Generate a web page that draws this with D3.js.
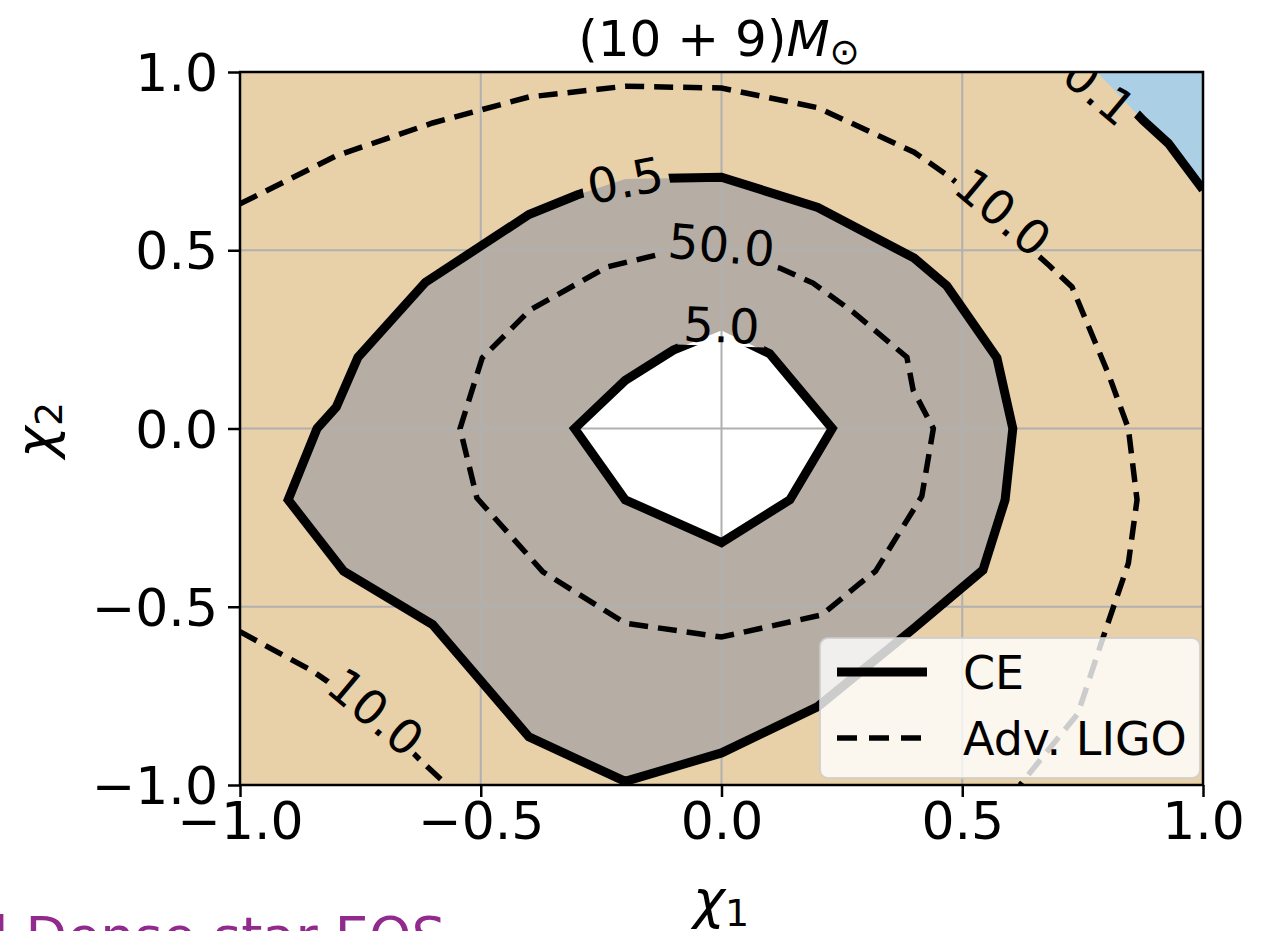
<!DOCTYPE html>
<html>
<head>
<meta charset="utf-8">
<script src="https://cdn.jsdelivr.net/npm/d3@7"></script>
<style>
  body { margin: 0; background: #fff; }
  svg { display: block; }
  text { font-family: "DejaVu Sans", sans-serif; }
</style>
</head>
<body>
<div id="chart"></div>
<script>
// ---- data (chi1, chi2) ----
const xTicks = [-1, -0.5, 0, 0.5, 1];
const yTicks = [-1, -0.5, 0, 0.5, 1];
const tickLabels = ["\u22121.0", "\u22120.5", "0.0", "0.5", "1.0"];

// CE contours (solid)
const ce01 = [[0.78, 1.0], [0.875, 0.865], [0.928, 0.80], [1.0, 0.67]];
const ce05 = [[-0.2, 0.70], [0, 0.705], [0.2, 0.62], [0.4, 0.478], [0.468, 0.40],
  [0.572, 0.198], [0.605, 0.0], [0.589, -0.2], [0.543, -0.397], [0.4, -0.56],
  [0.2, -0.78], [0, -0.91], [-0.2, -0.99], [-0.4, -0.865], [-0.6, -0.55],
  [-0.785, -0.40], [-0.9, -0.2], [-0.84, 0.0], [-0.80, 0.06], [-0.755, 0.20],
  [-0.615, 0.41], [-0.4, 0.60], [-0.3, 0.655]];
const ce50 = [[-0.305, 0], [-0.2, 0.135], [-0.1, 0.22], [0, 0.275], [0.1, 0.21],
  [0.23, 0], [0.142, -0.2], [0, -0.32], [-0.2, -0.2]];

// Adv. LIGO contours (dashed)
const ligo50 = [[0, 0.49], [0.121, 0.45], [0.19, 0.408], [0.273, 0.327], [0.385, 0.20],
  [0.398, 0.108], [0.44, 0.0], [0.416, -0.19], [0.32, -0.40], [0.288, -0.434],
  [0.208, -0.523], [0, -0.585], [-0.2, -0.546], [-0.371, -0.402], [-0.508, -0.195],
  [-0.543, 0.0], [-0.497, 0.198], [-0.398, 0.332], [-0.238, 0.453], [-0.134, 0.487]];
const ligo10a = [[-1, 0.63], [-0.8, 0.765], [-0.6, 0.857], [-0.4, 0.93], [-0.2, 0.96],
  [0, 0.955], [0.2, 0.90], [0.4, 0.775], [0.475, 0.705], [0.68, 0.458], [0.728, 0.397],
  [0.803, 0.155], [0.845, 0.0], [0.863, -0.2], [0.845, -0.378], [0.80, -0.556],
  [0.74, -0.8], [0.62, -1.0]];
const ligo10b = [[-1, -0.57], [-0.85, -0.68], [-0.72, -0.80], [-0.626, -0.93], [-0.57, -1.0]];

// inline contour labels: text, x, y, angle
const contourLabels = [
  ["0.5", -0.2, 0.697, -11],
  ["50.0", 0, 0.515, 5],
  ["5.0", 0, 0.29, 2],
  ["10.0", 0.585, 0.607, 40],
  ["10.0", -0.718, -0.795, 40],
  ["0.1", 0.785, 0.947, 40]
];

const legendNames = ["CE", "Adv. LIGO"];

// ---- layout ----
const W = 1274, H = 931;
const x = d3.scaleLinear().domain([-1, 1]).range([240, 1203]);
const y = d3.scaleLinear().domain([-1, 1]).range([785, 72]);

const svg = d3.select("#chart").append("svg")
  .attr("width", W).attr("height", H);

const defs = svg.append("defs");
defs.append("clipPath").attr("id", "plotClip")
  .append("rect")
  .attr("x", x(-1)).attr("y", y(1))
  .attr("width", x(1) - x(-1)).attr("height", y(-1) - y(1));

// mask cutting the contour lines under the labels
const mask = defs.append("mask").attr("id", "labelMask")
  .attr("maskUnits", "userSpaceOnUse")
  .attr("x", 0).attr("y", 0).attr("width", W).attr("height", H);
mask.append("rect").attr("width", W).attr("height", H).attr("fill", "#fff");
contourLabels.forEach(d => {
  const w = d[0].length * 25 + 12;
  mask.append("rect")
    .attr("x", -w / 2).attr("y", -21)
    .attr("width", w).attr("height", 42)
    .attr("fill", "#000")
    .attr("transform", `translate(${x(d[1])},${y(d[2])}) rotate(${d[3]})`);
});

const line = d3.line().x(d => x(d[0])).y(d => y(d[1]));
const closed = d3.line().x(d => x(d[0])).y(d => y(d[1])).curve(d3.curveLinearClosed);

const plot = svg.append("g").attr("clip-path", "url(#plotClip)");

// filled bands
plot.append("rect")
  .attr("x", x(-1)).attr("y", y(1))
  .attr("width", x(1) - x(-1)).attr("height", y(-1) - y(1))
  .attr("fill", "#e8d0a8");
plot.append("path")
  .attr("d", closed(ce01.concat([[1, 1]])))
  .attr("fill", "#abd0e6");
plot.append("path").attr("d", closed(ce05)).attr("fill", "#b6aea4");
plot.append("path").attr("d", closed(ce50)).attr("fill", "#ffffff");

// grid
plot.append("g").selectAll("line").data(xTicks).join("line")
  .attr("x1", d => x(d)).attr("x2", d => x(d))
  .attr("y1", y(1)).attr("y2", y(-1))
  .attr("stroke", "#b0b0b0").attr("stroke-width", 2);
plot.append("g").selectAll("line").data(yTicks).join("line")
  .attr("y1", d => y(d)).attr("y2", d => y(d))
  .attr("x1", x(-1)).attr("x2", x(1))
  .attr("stroke", "#b0b0b0").attr("stroke-width", 2);

// contour lines
const lines = plot.append("g").attr("mask", "url(#labelMask)")
  .attr("fill", "none").attr("stroke", "#000")
  .attr("stroke-linejoin", "miter");
lines.append("path").attr("d", line(ce01)).attr("stroke-width", 9);
lines.append("path").attr("d", closed(ce05)).attr("stroke-width", 9);
lines.append("path").attr("d", closed(ce50)).attr("stroke-width", 9);
[closed(ligo50), line(ligo10a), line(ligo10b)].forEach(p => {
  lines.append("path").attr("d", p)
    .attr("stroke-width", 5.5).attr("stroke-dasharray", "19,10");
});

// contour labels
plot.append("g").selectAll("text").data(contourLabels).join("text")
  .attr("transform", d => `translate(${x(d[1])},${y(d[2])}) rotate(${d[3]})`)
  .attr("text-anchor", "middle").attr("dy", "0.36em")
  .attr("font-size", 48).attr("fill", "#000")
  .text(d => d[0]);

// legend
const lg = svg.append("g");
lg.append("rect")
  .attr("x", 820).attr("y", 638).attr("width", 380).attr("height", 140)
  .attr("rx", 8).attr("fill", "#ffffff").attr("fill-opacity", 0.8)
  .attr("stroke", "#cccccc").attr("stroke-opacity", 0.8).attr("stroke-width", 2);
legendNames.forEach((name, i) => {
  const ly = 672 + i * 66;
  lg.append("line")
    .attr("x1", 837).attr("x2", 927).attr("y1", ly).attr("y2", ly)
    .attr("stroke", "#000").attr("stroke-width", i === 0 ? 9 : 5.5)
    .attr("stroke-dasharray", i === 0 ? null : "20,12");
  lg.append("text")
    .attr("x", 963).attr("y", ly).attr("dy", "0.36em")
    .attr("font-size", 46).text(name);
});

// frame + ticks
svg.append("rect")
  .attr("x", x(-1)).attr("y", y(1))
  .attr("width", x(1) - x(-1)).attr("height", y(-1) - y(1))
  .attr("fill", "none").attr("stroke", "#000").attr("stroke-width", 2.5);

const xAxis = svg.append("g").attr("transform", `translate(0,${y(-1)})`)
  .call(d3.axisBottom(x).tickValues(xTicks).tickSize(12).tickPadding(5)
    .tickFormat((d, i) => tickLabels[i]));
const yAxis = svg.append("g").attr("transform", `translate(${x(-1)},0)`)
  .call(d3.axisLeft(y).tickValues(yTicks).tickSize(12).tickPadding(10)
    .tickFormat((d, i) => tickLabels[i]));
[xAxis, yAxis].forEach(a => {
  a.select(".domain").remove();
  a.selectAll(".tick line").attr("stroke", "#000").attr("stroke-width", 2.5);
  a.selectAll(".tick text").attr("font-size", 52)
    .attr("font-family", "DejaVu Sans").attr("fill", "#000");
});
yAxis.selectAll(".tick text").attr("dy", "0.36em");

// title
const title = svg.append("text")
  .attr("x", 719).attr("y", 56).attr("text-anchor", "middle")
  .attr("font-size", 50);
title.append("tspan").text("(10 + 9)");
title.append("tspan").attr("font-style", "italic").text("M");
title.append("tspan").attr("font-size", 36).attr("dy", 8).text("\u2299");

// axis labels
const xl = svg.append("text")
  .attr("x", 721).attr("y", 918).attr("text-anchor", "middle")
  .attr("font-size", 54);
xl.append("tspan").attr("font-style", "italic").text("\u03c7");
xl.append("tspan").attr("font-size", 38).attr("dy", 8).text("1");

const yl = svg.append("text")
  .attr("transform", "translate(54,430) rotate(-90)")
  .attr("text-anchor", "middle").attr("font-size", 54);
yl.append("tspan").attr("font-style", "italic").text("\u03c7");
yl.append("tspan").attr("font-size", 38).attr("dy", 8).text("2");

// leftover slide caption, cut by the bottom edge
svg.append("text")
  .attr("x", -26).attr("y", 955)
  .attr("font-family", "Lato, sans-serif").attr("font-size", 54)
  .attr("fill", "#912a8c")
  .text("d Dense star EOS");
</script>
</body>
</html>
